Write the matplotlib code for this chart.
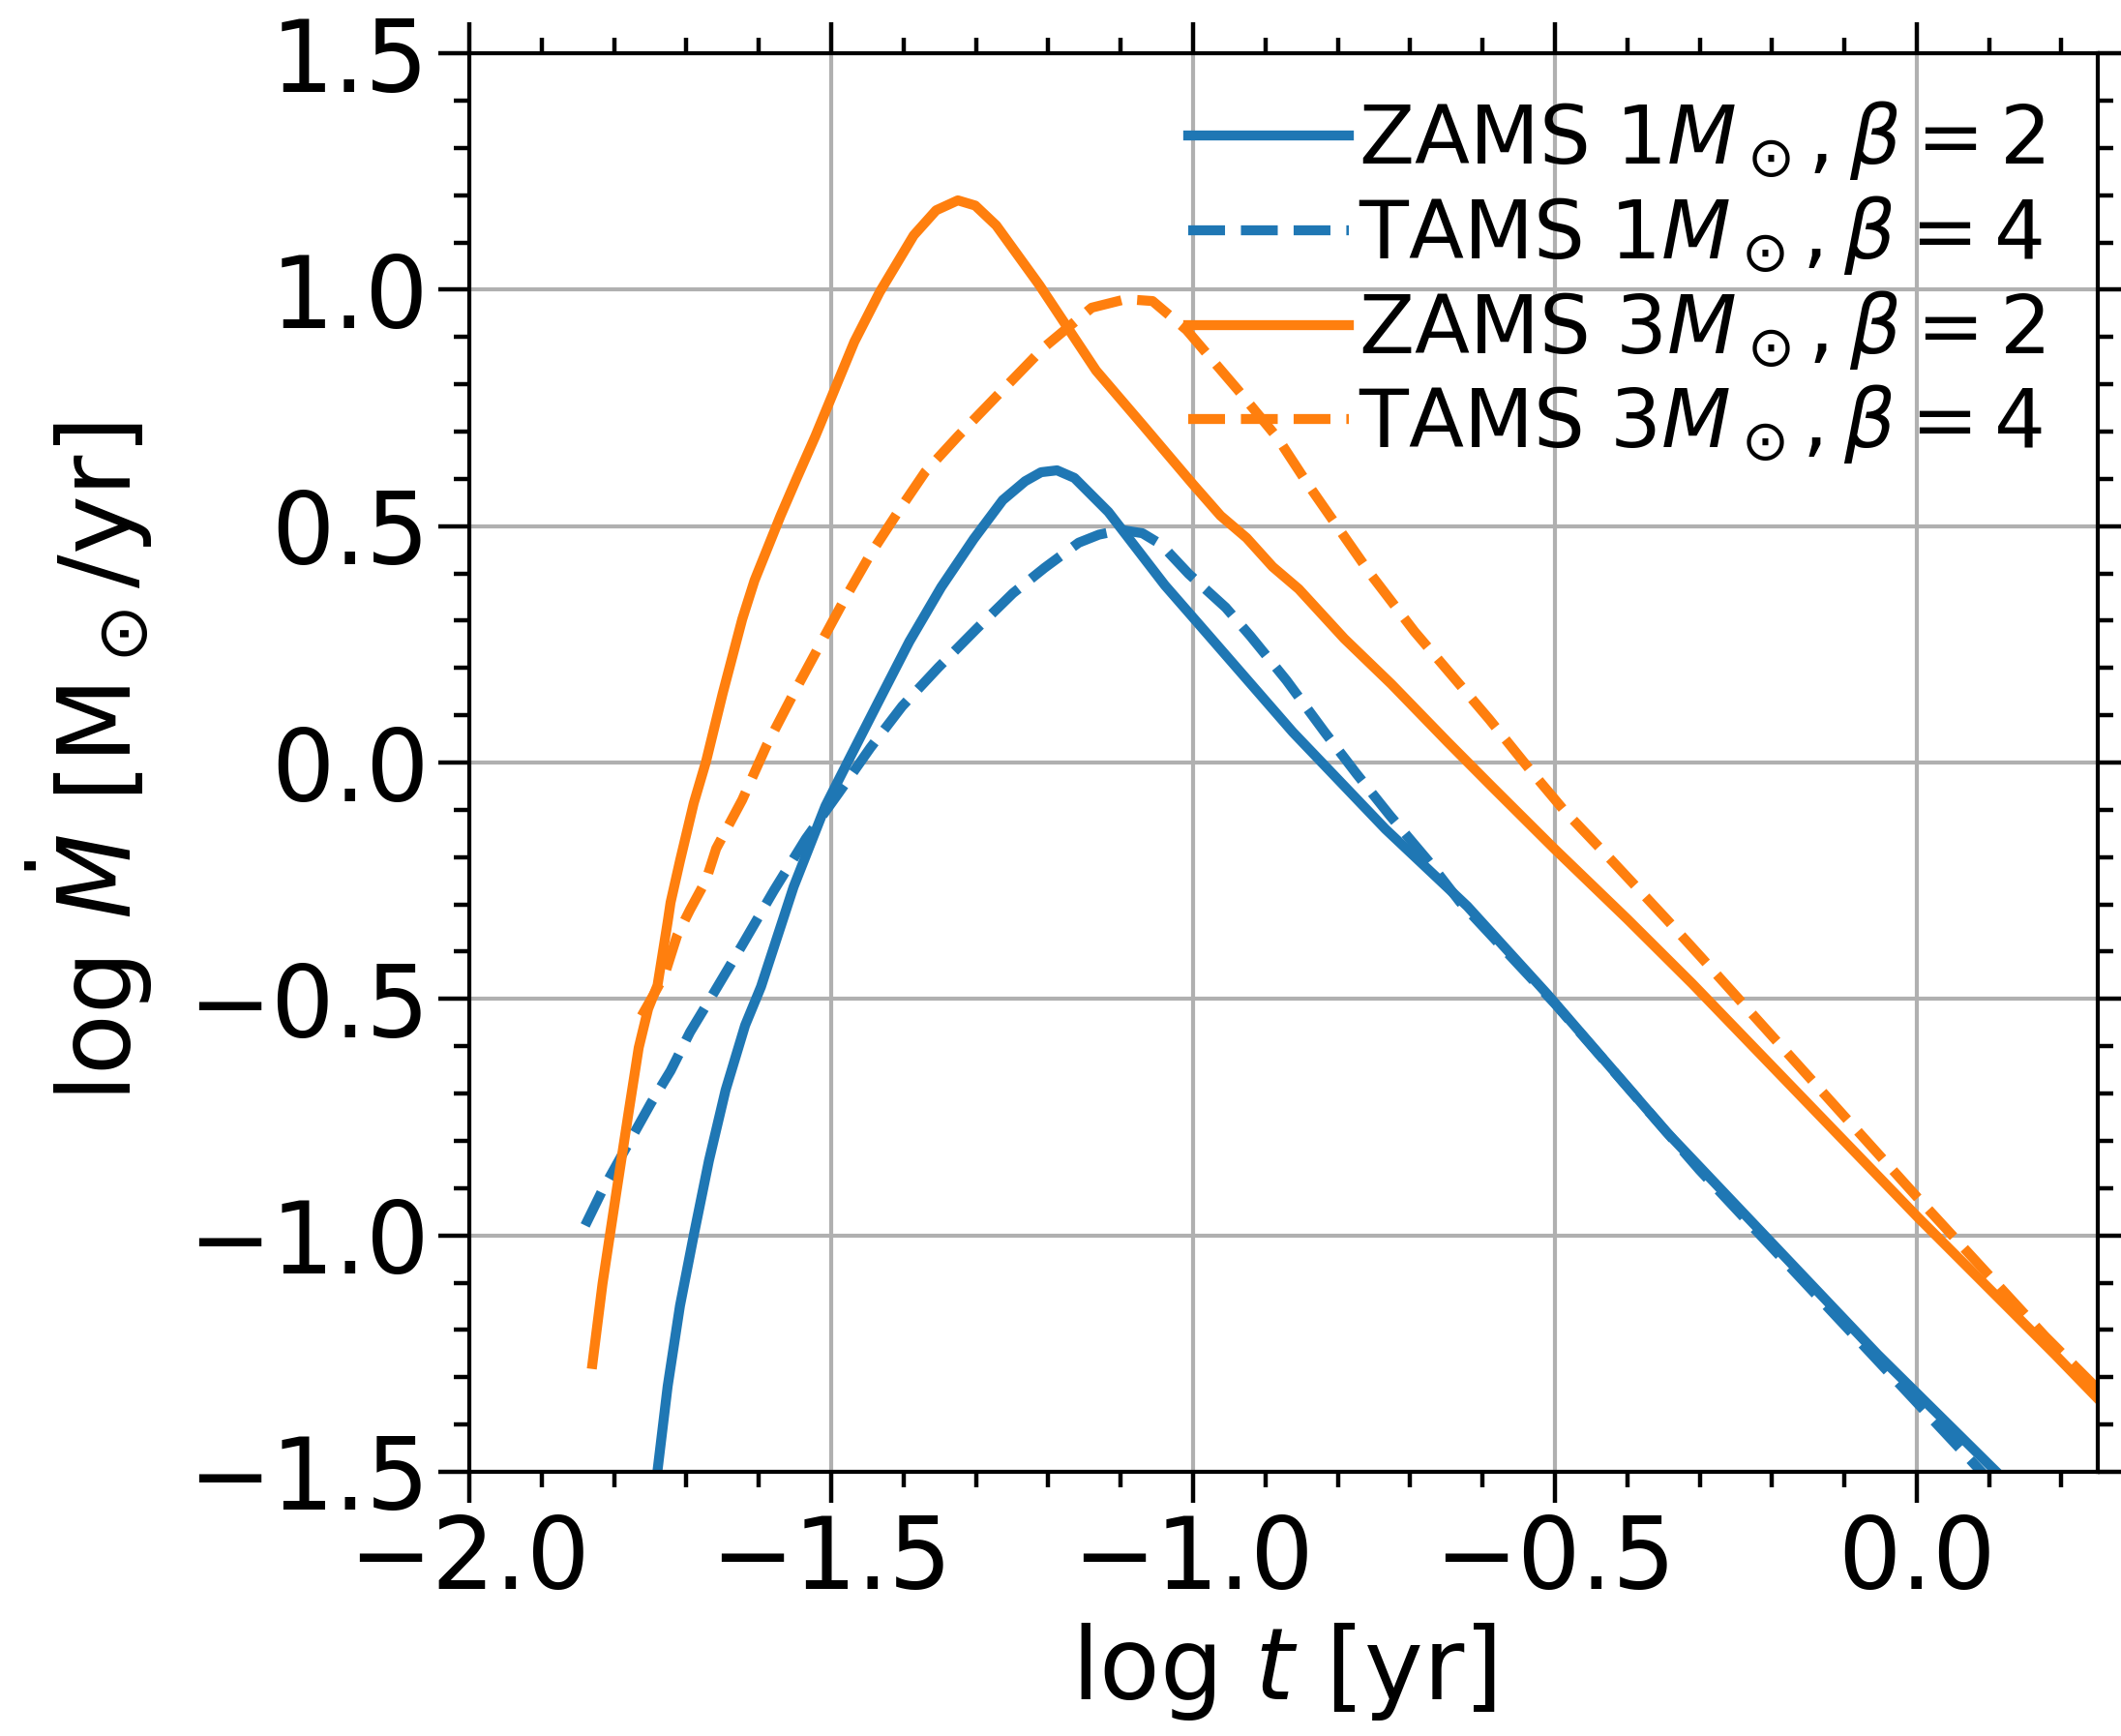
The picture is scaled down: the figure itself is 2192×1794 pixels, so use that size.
import numpy as np
import matplotlib
matplotlib.use("Agg")
import matplotlib.pyplot as plt
from matplotlib.ticker import MultipleLocator

# ZAMS 1 Msun, beta = 2
zams1_t = [-1.740, -1.726, -1.709, -1.690, -1.669, -1.646, -1.619, -1.597, -1.552,
           -1.508, -1.472, -1.436, -1.392, -1.348, -1.303, -1.263, -1.232, -1.210,
           -1.188, -1.164, -1.117, -1.039, -0.978, -0.862, -0.734, -0.621, -0.511,
           -0.346, -0.054, 0.108]
zams1_m = [-1.497, -1.319, -1.149, -1.000, -0.842, -0.693, -0.556, -0.474, -0.263,
           -0.092, 0.017, 0.125, 0.256, 0.371, 0.473, 0.555, 0.595, 0.614,
           0.618, 0.602, 0.530, 0.375, 0.268, 0.064, -0.141, -0.304, -0.489,
           -0.781, -1.252, -1.497]

# TAMS 1 Msun, beta = 4
tams1_t = [-1.840, -1.816, -1.784, -1.749, -1.722, -1.695, -1.663, -1.623, -1.579,
           -1.535, -1.490, -1.446, -1.402, -1.352, -1.299, -1.249, -1.205, -1.158,
           -1.130, -1.099, -1.070, -1.044, -1.006, -0.955, -0.921, -0.871, -0.818,
           -0.774, -0.728, -0.675, -0.631, -0.500, -0.300, -0.054, 0.120]
tams1_m = [-0.979, -0.904, -0.816, -0.720, -0.652, -0.570, -0.489, -0.386, -0.270,
           -0.161, -0.065, 0.031, 0.119, 0.201, 0.283, 0.358, 0.412, 0.465,
           0.482, 0.492, 0.485, 0.461, 0.399, 0.328, 0.268, 0.174, 0.064,
           -0.024, -0.112, -0.208, -0.295, -0.510, -0.862, -1.265, -1.550]

# ZAMS 3 Msun, beta = 2
zams3_t = [-1.830, -1.816, -1.797, -1.780, -1.766, -1.753, -1.740, -1.726, -1.722,
           -1.709, -1.690, -1.673, -1.650, -1.623, -1.606, -1.570, -1.548, -1.522,
           -1.468, -1.433, -1.386, -1.355, -1.325, -1.301, -1.272, -1.212, -1.134,
           -1.068, -1.001, -0.962, -0.926, -0.890, -0.854, -0.791, -0.726, -0.648,
           -0.587, -0.501, -0.400, -0.310, 0.001, 0.191, 0.250]
zams3_m = [-1.272, -1.102, -0.910, -0.740, -0.603, -0.521, -0.471, -0.337, -0.296,
           -0.208, -0.086, 0.002, 0.146, 0.303, 0.385, 0.522, 0.600, 0.690,
           0.890, 0.995, 1.115, 1.168, 1.189, 1.178, 1.136, 1.009, 0.829,
           0.711, 0.590, 0.522, 0.475, 0.414, 0.367, 0.262, 0.166, 0.043,
           -0.051, -0.182, -0.331, -0.468, -0.961, -1.252, -1.345]

# TAMS 3 Msun, beta = 4
tams3_t = [-1.762, -1.745, -1.730, -1.713, -1.695, -1.673, -1.659, -1.623, -1.589,
           -1.552, -1.516, -1.482, -1.446, -1.406, -1.370, -1.325, -1.272, -1.206,
           -1.140, -1.093, -1.056, -1.009, -0.938, -0.883, -0.842, -0.802, -0.755,
           -0.694, -0.640, -0.591, -0.533, -0.488, -0.421, -0.346, -0.299, 0.001,
           0.177, 0.250]
tams3_m = [-0.536, -0.490, -0.448, -0.366, -0.311, -0.249, -0.182, -0.079, 0.037,
           0.146, 0.248, 0.344, 0.440, 0.534, 0.615, 0.690, 0.774, 0.878,
           0.962, 0.980, 0.976, 0.915, 0.788, 0.686, 0.590, 0.502, 0.399,
           0.277, 0.180, 0.092, -0.018, -0.100, -0.208, -0.331, -0.410, -0.920,
           -1.213, -1.325]

labels = [r'ZAMS $1M_\odot,\beta=2$', r'TAMS $1M_\odot,\beta=4$',
          r'ZAMS $3M_\odot,\beta=2$', r'TAMS $3M_\odot,\beta=4$']

fig = plt.figure(figsize=(10.96, 8.97), dpi=200)
ax = fig.add_axes([0.2213, 0.1522, 0.7677, 0.8171])

lw = 3.7
ax.plot(zams1_t, zams1_m, color='C0', ls='-', lw=lw, label=labels[0])
ax.plot(tams1_t, tams1_m, color='C0', ls='--', lw=lw, label=labels[1])
ax.plot(zams3_t, zams3_m, color='C1', ls='-', lw=lw, label=labels[2])
ax.plot(tams3_t, tams3_m, color='C1', ls='--', lw=lw, label=labels[3])

ax.set_xlim(-2.0, 0.25)
ax.set_ylim(-1.5, 1.5)
ax.xaxis.set_major_locator(MultipleLocator(0.5))
ax.yaxis.set_major_locator(MultipleLocator(0.5))
ax.xaxis.set_minor_locator(MultipleLocator(0.1))
ax.yaxis.set_minor_locator(MultipleLocator(0.1))
ax.tick_params(which='both', top=True, right=True, direction='out', width=1.6)
ax.tick_params(which='major', length=11.5, labelsize=37)
ax.tick_params(which='minor', length=5.8)
for s in ax.spines.values():
    s.set_linewidth(1.5)
ax.grid(True, which='major', color='#b0b0b0', lw=1.5)

ax.set_xlabel(r'log $t$ [yr]', fontsize=37)
ax.set_ylabel(r'log $\dot{M}$ [M$_\odot$/yr]', fontsize=37, labelpad=12)

ax.legend(loc='upper right', bbox_to_anchor=(1.0025, 1.0075), frameon=False,
          fontsize=30, handlelength=2.0, handletextpad=0.12, borderaxespad=0.3,
          labelspacing=0.14)

fig.savefig('out.png', dpi=200)
